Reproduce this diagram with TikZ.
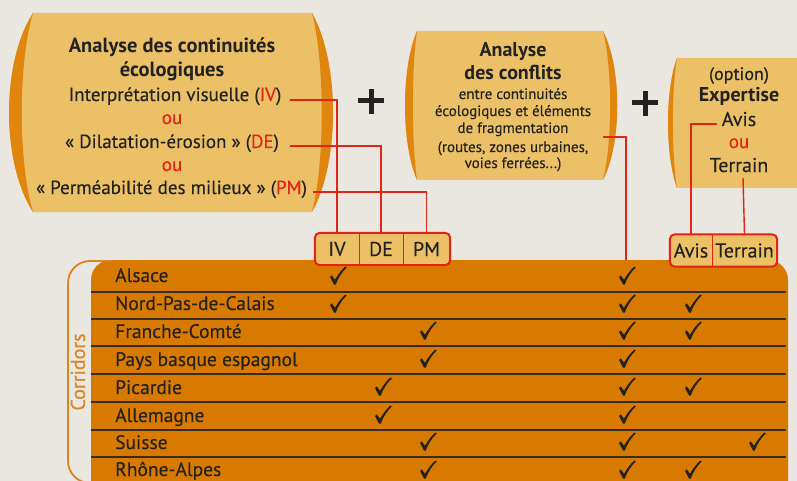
\documentclass[tikz,border=0pt]{standalone}
\usepackage{fontspec}
\setmainfont{PT Sans}[UprightFeatures={FakeBold=0.3}]
\definecolor{bg}{HTML}{EAE7E1}
\definecolor{boxc}{HTML}{ECC066}
\definecolor{boxedge}{HTML}{E0860E}
\definecolor{tablec}{HTML}{D97A00}
\definecolor{redc}{HTML}{E2231A}
\definecolor{textc}{HTML}{222222}
\definecolor{sepc}{HTML}{3A2C1C}
\definecolor{corrc}{HTML}{DB8426}
\tikzset{
  txt/.style={inner sep=0pt, anchor=base, text=textc, font=\fontsize{19}{22}\selectfont},
  ttl/.style={inner sep=0pt, anchor=base, text=textc, font=\bfseries\fontsize{20.5}{24}\selectfont},
  small/.style={inner sep=0pt, anchor=base, text=textc, font=\fontsize{15}{17}\selectfont},
  big/.style={inner sep=0pt, anchor=base, text=textc, font=\fontsize{20}{23}\selectfont},
  bigb/.style={inner sep=0pt, anchor=base, text=textc, font=\bfseries\fontsize{20}{23}\selectfont},
  redtxt/.style={text=redc},
  redline/.style={draw=redc, line width=1.4pt},
  cell/.style={inner sep=0pt, minimum height=32pt, text=textc, font=\fontsize{20}{22}\selectfont},
  rowlab/.style={inner sep=0pt, anchor=base west, text=textc, font=\fontsize{19.5}{22}\selectfont},
  plusbar/.style={draw=textc, line width=5pt},
  chkmark/.pic={\fill[textc] (-8,1) -- (-6.2,-0.6) -- (-3,3.8) .. controls (1,-3) and (4,-6.5) .. (7.5,-9.5) -- (8.8,-8.6) .. controls (4,-4) and (0,2) .. (-2.2,8.5) -- (-4,8.5) -- cycle;},
}
\begin{document}
\begin{tikzpicture}[x=1pt,y=-1pt]
\useasboundingbox (0,0) rectangle (797,481);
\fill[bg] (0,0) rectangle (797,481);
\clip (0,0) rectangle (797,481);

% ---------- box 1 ----------
\fill[boxc] (33,13) -- (312,13) .. controls (340,63) and (340,162) .. (312,212) -- (33,212) .. controls (1,162) and (1,63) .. (33,13) -- cycle;
\fill[boxedge] (33,13) .. controls (1,63) and (1,162) .. (33,212) .. controls (18,162) and (18,63) .. (33,13) -- cycle;
\fill[boxedge] (312,13) .. controls (340,63) and (340,162) .. (312,212) .. controls (325,162) and (325,63) .. (312,13) -- cycle;

% ---------- box 2 ----------
\fill[boxc] (417,31) -- (603,31) .. controls (622,68) and (622,143) .. (603,180) -- (417,180) .. controls (401,143) and (401,68) .. (417,31) -- cycle;
\fill[boxedge] (417,31) .. controls (401,68) and (401,143) .. (417,180) .. controls (411.5,143) and (411.5,68) .. (417,31) -- cycle;
\fill[boxedge] (603,31) .. controls (622,68) and (622,143) .. (603,180) .. controls (612.5,143) and (612.5,68) .. (603,31) -- cycle;

% ---------- box 3 ----------
\fill[boxc] (677,58) -- (830,58) -- (830,188) -- (677,188) .. controls (665,155) and (665,90) .. (677,58) -- cycle;
\fill[boxedge] (677,58) .. controls (665,90) and (665,155) .. (677,188) .. controls (671.5,155) and (671.5,90) .. (677,58) -- cycle;

% ---------- plus signs ----------
\draw[plusbar] (358,101) -- (384,101) (371,89) -- (371,114);
\draw[plusbar] (632,103) -- (658,103) (645,91) -- (645,116);

% ---------- box texts ----------
\node[ttl] (b1t1) at (172,53) {Analyse des continuités};
\node[ttl] (b1t2) at (172,77) {écologiques};
\node[txt] (b1iv) at (175,101) {Interprétation visuelle (\textcolor{redc}{IV})};
\node[txt, redtxt] (b1ou1) at (172,124) {ou};
\node[txt] (b1de) at (172,148) {« Dilatation-érosion » (\textcolor{redc}{DE})};
\node[txt, redtxt] (b1ou2) at (172,171) {ou};
\node[txt] (b1pm) at (171.5,194) {« Perméabilité des milieux » (\textcolor{redc}{PM})};

\node[bigb] (b2t1) at (513,57) {Analyse};
\node[bigb] (b2t2) at (513,80) {des conflits};
\node[small] (b2l1) at (513,99) {entre continuités};
\node[small] (b2l2) at (513,116) {écologiques et éléments};
\node[small] (b2l3) at (513,133) {de fragmentation};
\node[small] (b2l4) at (513,152) {(routes, zones urbaines,};
\node[small] (b2l5) at (513,168) {voies ferrées...)};

\node[txt, font=\fontsize{18}{20}\selectfont] (b3opt) at (739,80) {(option)};
\node[bigb] (b3exp) at (739,102) {Expertise};
\node[big] (b3avis) at (739,126) {Avis};
\node[txt, redtxt] (b3ou) at (739,148) {ou};
\node[big] (b3ter) at (739,172) {Terrain};

% ---------- connector end points ----------
\coordinate (ivend) at (290,100);
\coordinate (deend) at (290,146);
\coordinate (pmend) at (313,192);
\coordinate (confend) at (603,137);
\coordinate (conftop) at (626,260);
\coordinate (avisend) at (717,124);
\coordinate (terend) at (743,178);

% ---------- table ----------
\fill[tablec, rounded corners=20pt] (91,260) rectangle (788,540);
\foreach \yy in {292,319,346,374,402,430,457}
  \draw[sepc, line width=1.6pt] (91,\yy) -- (786,\yy);

% ---------- corridors bracket ----------
\draw[corrc, line width=1.8pt, rounded corners=22pt] (112,261) -- (68,261) -- (68,483) -- (96,483);
\node[rotate=90, inner sep=0pt, text=corrc, font=\fontsize{20}{22}\selectfont] (corr) at (78,372) {Corridors};

% ---------- header cells ----------
\node[cell, minimum width=44pt] (hIV) at (337,249) {};
\node[cell, minimum width=44pt] (hDE) at (381,249) {};
\node[cell, minimum width=47pt] (hPM) at (426.5,249) {};
\node[cell, minimum width=42pt] (hAvis) at (691,250.5) {};
\node[cell, minimum width=65pt] (hTer) at (744.5,250.5) {};

% ---------- red connectors ----------
\draw[redline] (ivend) -| (hIV.north);
\draw[redline] (deend) -| (hDE.north);
\draw[redline] (pmend) -| (hPM.north);
\draw[redline] (confend) -| (conftop);
\draw[redline] (avisend) -| (hAvis.north);
\draw[redline] (terend) -- (hTer.north);

% header frames (drawn over connectors and table)
\draw[redc, line width=2pt, fill=boxc, rounded corners=5pt] (hIV.north west) rectangle (hPM.south east);
\draw[redc, line width=1.4pt] (hIV.north east) -- (hIV.south east) (hDE.north east) -- (hDE.south east);
\draw[redc, line width=2pt, fill=boxc, rounded corners=5pt] (hAvis.north west) rectangle (hTer.south east);
\draw[redc, line width=1.4pt] (hAvis.north east) -- (hAvis.south east);
\node[cell] (tIV) at (hIV) {IV};
\node[cell] (tDE) at (hDE) {DE};
\node[cell] (tPM) at (hPM) {PM};
\node[cell] (tAvis) at (hAvis) {Avis};
\node[cell] (tTer) at (hTer) {Terrain};

% ---------- rows ----------
\foreach \lab/\bl/\nm in {Alsace/282/r1, Nord-Pas-de-Calais/310/r2, Franche-Comté/338/r3, Pays basque espagnol/366/r4, Picardie/394/r5, Allemagne/422/r6, Suisse/449/r7, Rhône-Alpes/476/r8}
  \node[rowlab] (\nm) at (115,\bl) {\lab};

% ---------- checks: column x / row center y ----------
\foreach \cx/\cy/\nm in {
  338/276/c1a, 627/276/c1b,
  338/304/c2a, 627/304/c2b, 693/304/c2c,
  428/331/c3a, 627/331/c3b, 693/331/c3c,
  428/359/c4a, 627/359/c4b,
  383/387/c5a, 627/387/c5b, 693/387/c5c,
  383/415/c6a, 627/415/c6b,
  428/442/c7a, 627/442/c7b, 757/442/c7c,
  428/470/c8a, 627/470/c8b, 693/470/c8c}
  \pic (\nm) at (\cx,\cy) {chkmark};
\end{tikzpicture}
\end{document}
